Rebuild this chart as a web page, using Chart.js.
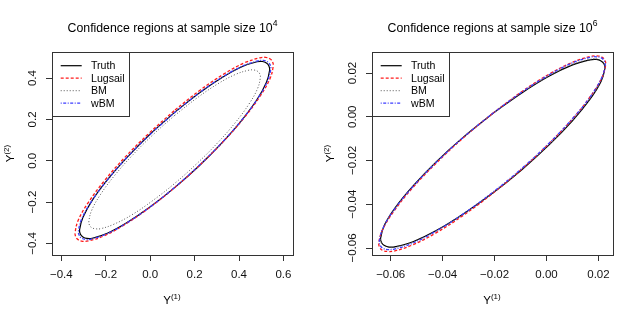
<!DOCTYPE html>
<html>
<head>
<meta charset="utf-8">
<script src="https://cdn.jsdelivr.net/npm/chart.js@4.4.1/dist/chart.umd.min.js"></script>
<style>
  html, body { margin: 0; padding: 0; background: #fff; }
  #wrap { position: relative; width: 640px; height: 321px; }
  .panel { position: absolute; top: 0; width: 320px; height: 321px; }
</style>
</head>
<body>
<div id="wrap">
  <div class="panel" style="left:0"><canvas id="c1" width="320" height="321"></canvas></div>
  <div class="panel" style="left:320px"><canvas id="c2" width="320" height="321"></canvas></div>
</div>
<script>
// ---- series names and panel texts ----
const seriesNames = ['Truth', 'Lugsail', 'BM', 'wBM'];
const panelTitles = ['Confidence regions at sample size 10', 'Confidence regions at sample size 10'];
const panelTitleExponents = ['4', '6'];

// ---- left panel (sample size 10^4): boundary points ----
const leftTruthX = [0.110, -0.001, -0.104, -0.193, -0.261, -0.303, -0.318, -0.314, -0.303, -0.285, -0.261, -0.193, -0.104, -0.001, 0.110, 0.221, 0.324, 0.413, 0.481, 0.523, 0.538, 0.534, 0.523, 0.505, 0.481, 0.413, 0.324, 0.221];
const leftTruthY = [0.234, 0.128, 0.016, -0.093, -0.192, -0.275, -0.335, -0.356, -0.369, -0.376, -0.375, -0.351, -0.299, -0.224, -0.130, -0.024, 0.088, 0.197, 0.296, 0.379, 0.439, 0.460, 0.473, 0.480, 0.479, 0.455, 0.403, 0.328];
const leftLugsailX = [0.108, -0.007, -0.115, -0.207, -0.278, -0.323, -0.338, -0.334, -0.323, -0.304, -0.278, -0.207, -0.115, -0.007, 0.108, 0.223, 0.331, 0.423, 0.494, 0.539, 0.554, 0.550, 0.539, 0.520, 0.494, 0.423, 0.331, 0.223];
const leftLugsailY = [0.242, 0.131, 0.015, -0.098, -0.201, -0.286, -0.349, -0.370, -0.383, -0.390, -0.388, -0.363, -0.309, -0.230, -0.132, -0.021, 0.095, 0.208, 0.311, 0.396, 0.459, 0.480, 0.493, 0.500, 0.498, 0.473, 0.419, 0.340];
const leftBMX = [0.110, 0.010, -0.083, -0.163, -0.224, -0.263, -0.276, -0.273, -0.263, -0.247, -0.224, -0.163, -0.083, 0.010, 0.110, 0.210, 0.303, 0.383, 0.444, 0.483, 0.496, 0.493, 0.483, 0.467, 0.444, 0.383, 0.303, 0.210];
const leftBMY = [0.219, 0.123, 0.023, -0.075, -0.164, -0.239, -0.293, -0.312, -0.324, -0.329, -0.329, -0.307, -0.262, -0.194, -0.110, -0.014, 0.086, 0.184, 0.273, 0.348, 0.402, 0.421, 0.433, 0.439, 0.438, 0.417, 0.371, 0.303];
const leftWBMX = [0.110, -0.002, -0.107, -0.196, -0.265, -0.308, -0.323, -0.319, -0.308, -0.290, -0.265, -0.196, -0.107, -0.002, 0.110, 0.222, 0.327, 0.416, 0.485, 0.528, 0.543, 0.539, 0.528, 0.510, 0.485, 0.416, 0.327, 0.222];
const leftWBMY = [0.233, 0.125, 0.013, -0.098, -0.198, -0.281, -0.341, -0.362, -0.375, -0.381, -0.379, -0.354, -0.302, -0.225, -0.129, -0.021, 0.092, 0.202, 0.302, 0.385, 0.445, 0.466, 0.479, 0.485, 0.483, 0.458, 0.406, 0.329];

// ---- right panel (sample size 10^6) ----
const rightTruthX = [-0.0207, -0.0319, -0.0423, -0.0512, -0.0581, -0.0624, -0.0639, -0.0635, -0.0624, -0.0606, -0.0581, -0.0512, -0.0423, -0.0319, -0.0207, -0.0095, 0.0009, 0.0098, 0.0167, 0.0210, 0.0225, 0.0221, 0.0210, 0.0192, 0.0167, 0.0098, 0.0009, -0.0095];
const rightTruthY = [0.0015, -0.0092, -0.0204, -0.0314, -0.0413, -0.0495, -0.0556, -0.0576, -0.0589, -0.0596, -0.0594, -0.0570, -0.0519, -0.0443, -0.0349, -0.0242, -0.0130, -0.0021, 0.0079, 0.0161, 0.0222, 0.0242, 0.0255, 0.0262, 0.0260, 0.0236, 0.0185, 0.0109];
const rightLugsailX = [-0.0209, -0.0322, -0.0427, -0.0518, -0.0587, -0.0631, -0.0646, -0.0642, -0.0631, -0.0612, -0.0587, -0.0518, -0.0427, -0.0322, -0.0209, -0.0096, 0.0009, 0.0100, 0.0169, 0.0213, 0.0228, 0.0224, 0.0213, 0.0194, 0.0169, 0.0100, 0.0009, -0.0096];
const rightLugsailY = [0.0014, -0.0098, -0.0215, -0.0328, -0.0431, -0.0516, -0.0577, -0.0598, -0.0611, -0.0616, -0.0614, -0.0587, -0.0532, -0.0452, -0.0352, -0.0240, -0.0123, -0.0010, 0.0093, 0.0178, 0.0239, 0.0260, 0.0273, 0.0278, 0.0276, 0.0249, 0.0194, 0.0114];
const rightBMX = [-0.0207, -0.0319, -0.0423, -0.0512, -0.0581, -0.0624, -0.0639, -0.0635, -0.0624, -0.0606, -0.0581, -0.0512, -0.0423, -0.0319, -0.0207, -0.0095, 0.0009, 0.0098, 0.0167, 0.0210, 0.0225, 0.0221, 0.0210, 0.0192, 0.0167, 0.0098, 0.0009, -0.0095];
const rightBMY = [0.0015, -0.0093, -0.0205, -0.0315, -0.0415, -0.0497, -0.0558, -0.0578, -0.0591, -0.0598, -0.0596, -0.0572, -0.0520, -0.0444, -0.0349, -0.0241, -0.0129, -0.0019, 0.0081, 0.0163, 0.0224, 0.0244, 0.0257, 0.0264, 0.0262, 0.0238, 0.0186, 0.0110];
const rightWBMX = [-0.0209, -0.0322, -0.0427, -0.0517, -0.0586, -0.0629, -0.0644, -0.0640, -0.0629, -0.0611, -0.0586, -0.0517, -0.0427, -0.0322, -0.0209, -0.0096, 0.0009, 0.0099, 0.0168, 0.0211, 0.0226, 0.0222, 0.0211, 0.0193, 0.0168, 0.0099, 0.0009, -0.0096];
const rightWBMY = [0.0014, -0.0096, -0.0211, -0.0323, -0.0424, -0.0508, -0.0569, -0.0589, -0.0602, -0.0607, -0.0605, -0.0579, -0.0524, -0.0445, -0.0347, -0.0237, -0.0122, -0.0010, 0.0091, 0.0175, 0.0236, 0.0256, 0.0269, 0.0274, 0.0272, 0.0246, 0.0191, 0.0112];

// ---- axes: tick values and limits ----
const leftXTicks = [-0.4, -0.2, 0.0, 0.2, 0.4, 0.6];
const leftYTicks = [-0.4, -0.2, 0.0, 0.2, 0.4];
const rightXTicks = [-0.06, -0.04, -0.02, 0.00, 0.02];
const rightYTicks = [-0.06, -0.04, -0.02, 0.00, 0.02];
const leftXLimits = [-0.442, 0.643];
const leftYLimits = [-0.456, 0.526];
const rightXLimits = [-0.0672, 0.0256];
const rightYLimits = [-0.0632, 0.0296];

// ---- styles ----
const seriesStyles = [
  { color: '#000000', width: 1.2, dash: [] },
  { color: '#ff1a1a', width: 1.3, dash: [3, 2] },
  { color: '#555555', width: 1.0, dash: [1, 2] },
  { color: '#3d3dff', width: 1.3, dash: [1, 1.5, 3, 1.5] }
];
const FONT = '"Liberation Sans", Arial, Helvetica, sans-serif';

function closedPoints(xs, ys) {
  const pts = xs.map((x, i) => ({ x: x, y: ys[i] }));
  pts.push({ x: xs[0], y: ys[0] });
  return pts;
}
function fmt(v, d) {
  const s = Math.abs(v).toFixed(d);
  return (v < -1e-12 ? '\u2212' : '') + s;
}

function drawSup(ctx, main, sup, cx, baseline, size, supSize, raise) {
  ctx.font = size + 'px ' + FONT;
  const wm = ctx.measureText(main).width;
  ctx.font = supSize + 'px ' + FONT;
  const ws = ctx.measureText(sup).width;
  const x0 = cx - (wm + ws) / 2;
  ctx.textAlign = 'left';
  ctx.textBaseline = 'alphabetic';
  ctx.font = size + 'px ' + FONT;
  ctx.fillText(main, x0, baseline);
  ctx.font = supSize + 'px ' + FONT;
  ctx.fillText(sup, x0 + wm, baseline - raise);
}

const decor = {
  id: 'decor',
  afterDraw(chart, args, o) {
    const { ctx, chartArea: a } = chart;
    ctx.save();
    ctx.fillStyle = '#000';
    // plot box
    ctx.strokeStyle = '#333';
    ctx.lineWidth = 1;
    ctx.setLineDash([]);
    ctx.strokeRect(Math.round(a.left) + 0.5, Math.round(a.top) + 0.5, Math.round(a.right - a.left), Math.round(a.bottom - a.top));
    // title
    drawSup(ctx, o.title, o.titleSup, (a.left + a.right) / 2, 31.5, 12.3, 8.6, 5.5);
    // x axis title
    drawSup(ctx, 'Y', '(1)', (a.left + a.right) / 2 - 0.5, 304, 11.5, 8, 5);
    // y axis title
    ctx.save();
    ctx.translate(13.5, (a.top + a.bottom) / 2);
    ctx.rotate(-Math.PI / 2);
    drawSup(ctx, 'Y', '(2)', 0, 0, 11.5, 8, 5);
    ctx.restore();
    // legend
    const lx = Math.round(a.left), ly = Math.round(a.top);
    ctx.fillStyle = '#fff';
    ctx.fillRect(lx + 1, ly + 1, 76, 63);
    ctx.strokeStyle = '#333';
    ctx.lineWidth = 1;
    ctx.strokeRect(lx + 0.5, ly + 0.5, 77, 64);
    chart.data.datasets.forEach((ds, i) => {
      const y = ly + 13.7 + i * 12.5;
      ctx.setLineDash(ds.borderDash || []);
      ctx.strokeStyle = ds.borderColor;
      ctx.lineWidth = ds.borderWidth;
      ctx.beginPath();
      ctx.moveTo(lx + 8.7, y);
      ctx.lineTo(lx + 29.7, y);
      ctx.stroke();
      ctx.setLineDash([]);
      ctx.fillStyle = '#000';
      ctx.font = '10.6px ' + FONT;
      ctx.textAlign = 'left';
      ctx.textBaseline = 'middle';
      ctx.fillText(ds.label, lx + 39, y + 0.5);
    });
    ctx.restore();
  }
};

function makeChart(id, series, xTicks, yTicks, xLim, yLim, decimals, yPad, title, titleSup) {
  const datasets = series.map((pts, i) => ({
    label: seriesNames[i],
    data: pts,
    showLine: true,
    fill: false,
    borderColor: seriesStyles[i].color,
    borderWidth: seriesStyles[i].width,
    borderDash: seriesStyles[i].dash,
    pointRadius: 0,
    pointHoverRadius: 0,
    tension: 0.4,
    order: series.length - 1 - i
  }));
  const tickFont = { family: FONT, size: 11.5 };
  return new Chart(document.getElementById(id), {
    type: 'scatter',
    data: { datasets: datasets },
    options: {
      responsive: false,
      animation: false,
      devicePixelRatio: 1,
      layout: { padding: { left: 0, right: 27, top: 52, bottom: 0 } },
      plugins: {
        legend: { display: false },
        tooltip: { enabled: false },
        title: { display: false },
        decor: { title: title, titleSup: titleSup }
      },
      scales: {
        x: {
          type: 'linear',
          position: 'bottom',
          min: xLim[0],
          max: xLim[1],
          afterBuildTicks: (s) => { s.ticks = xTicks.map(v => ({ value: v })); },
          afterFit: (s) => { s.height = 66; },
          ticks: {
            autoSkip: false,
            maxRotation: 0,
            minRotation: 0,
            padding: 7,
            color: '#111',
            font: tickFont,
            callback: (v) => fmt(v, decimals)
          },
          grid: { drawOnChartArea: false, drawTicks: true, tickLength: 6, tickColor: '#333', lineWidth: 1 },
          border: { display: false }
        },
        y: {
          type: 'linear',
          position: 'left',
          min: yLim[0],
          max: yLim[1],
          afterBuildTicks: (s) => { s.ticks = yTicks.map(v => ({ value: v })); },
          afterFit: (s) => { s.width = 52; },
          ticks: {
            autoSkip: false,
            minRotation: 90,
            maxRotation: 90,
            crossAlign: 'center',
            padding: yPad,
            color: '#111',
            font: tickFont,
            callback: (v) => fmt(v, decimals)
          },
          grid: { drawOnChartArea: false, drawTicks: true, tickLength: 6, tickColor: '#333', lineWidth: 1 },
          border: { display: false }
        }
      }
    },
    plugins: [decor]
  });
}

makeChart('c1',
  [closedPoints(leftTruthX, leftTruthY), closedPoints(leftLugsailX, leftLugsailY), closedPoints(leftBMX, leftBMY), closedPoints(leftWBMX, leftWBMY)],
  leftXTicks, leftYTicks, leftXLimits, leftYLimits, 1, 1.4, panelTitles[0], panelTitleExponents[0]);
makeChart('c2',
  [closedPoints(rightTruthX, rightTruthY), closedPoints(rightLugsailX, rightLugsailY), closedPoints(rightBMX, rightBMY), closedPoints(rightWBMX, rightWBMY)],
  rightXTicks, rightYTicks, rightXLimits, rightYLimits, 2, -1.8, panelTitles[1], panelTitleExponents[1]);
</script>
</body>
</html>
